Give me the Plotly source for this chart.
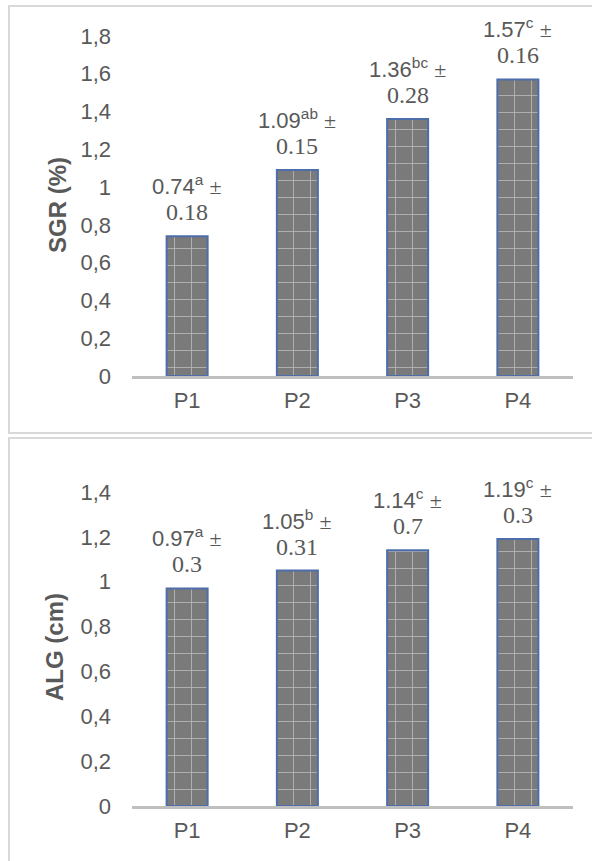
import plotly.graph_objects as go

categories = ["P1", "P2", "P3", "P4"]

sgr_values = [0.74, 1.09, 1.36, 1.57]
sgr_sd = ["0.18", "0.15", "0.28", "0.16"]
sgr_letters = ["a", "ab", "bc", "c"]

alg_values = [0.97, 1.05, 1.14, 1.19]
alg_sd = ["0.3", "0.31", "0.7", "0.3"]
alg_letters = ["a", "b", "c", "c"]

W, H = 592, 861
SANS = "Liberation Sans"
SERIF = "Liberation Serif"
GRAY_TXT = "#595959"

def py(px):
    return 1 - px / H

fig = go.Figure()

bar_style = dict(
    marker=dict(
        color="#7a7a7a",
        line=dict(color="#4d6eab", width=2),
        pattern=dict(shape="+", size=17, solidity=0.1,
                     fgcolor="rgba(255,255,255,0.9)", bgcolor="#7a7a7a",
                     fillmode="overlay"),
    ),
    showlegend=False,
    hoverinfo="skip",
)

fig.add_trace(go.Bar(x=categories, y=sgr_values, xaxis="x", yaxis="y", **bar_style))
fig.add_trace(go.Bar(x=categories, y=alg_values, xaxis="x2", yaxis="y2", **bar_style))

x_dom = [132 / W, 573 / W]
axis_common_x = dict(
    showline=True, linecolor="#bfbfbf", linewidth=3,
    showgrid=False, zeroline=False, ticks="", automargin=False,
    tickfont=dict(family=SANS, size=22, color=GRAY_TXT),
    ticklabelstandoff=3, domain=x_dom, fixedrange=True,
)
axis_common_y = dict(
    showline=False, showgrid=False, zeroline=False, ticks="", automargin=False,
    tickfont=dict(family=SANS, size=22, color=GRAY_TXT),
    ticklabelstandoff=20, dtick=0.2, tick0=0, fixedrange=True,
)

fig.update_layout(
    width=W, height=H, autosize=False,
    margin=dict(l=0, r=0, t=0, b=0, pad=0),
    paper_bgcolor="white", plot_bgcolor="white",
    separators=",.",
    bargap=0.628,
    xaxis=dict(anchor="y", **axis_common_x),
    xaxis2=dict(anchor="y2", **axis_common_x),
    yaxis=dict(anchor="x", range=[0, 1.8], domain=[py(376), py(36)], **axis_common_y),
    yaxis2=dict(anchor="x2", range=[0, 1.4], domain=[py(806), py(492)], **axis_common_y),
)

annotations = []

def add_labels(xref, yref, values, letters, sds):
    for c, v, l, s in zip(categories, values, letters, sds):
        annotations.append(dict(
            x=c, y=v, xref=xref, yref=yref, showarrow=False,
            yanchor="middle", yshift=51,
            text=f"{v:.2f}<sup>{l}</sup> <span style='font-family:Liberation Serif'>±</span>",
            font=dict(family=SANS, size=22, color=GRAY_TXT),
        ))
        annotations.append(dict(
            x=c, y=v, xref=xref, yref=yref, showarrow=False,
            yanchor="middle", yshift=24,
            text=s,
            font=dict(family=SERIF, size=24, color=GRAY_TXT),
        ))

add_labels("x", "y", sgr_values, sgr_letters, sgr_sd)
add_labels("x2", "y2", alg_values, alg_letters, alg_sd)

annotations.append(dict(
    x=57 / W, y=py(205), xref="paper", yref="paper", showarrow=False,
    text="<b>SGR (%)</b>", textangle=-90, xanchor="center", yanchor="middle",
    font=dict(family=SANS, size=24, color=GRAY_TXT),
))
annotations.append(dict(
    x=54 / W, y=py(647), xref="paper", yref="paper", showarrow=False,
    text="<b>ALG (cm)</b>", textangle=-90, xanchor="center", yanchor="middle",
    font=dict(family=SANS, size=24, color=GRAY_TXT),
))

fig.update_layout(annotations=annotations)

shapes = [
    dict(type="rect", xref="paper", yref="paper",
         x0=9 / W, x1=1.05, y0=py(433), y1=py(6),
         line=dict(color="#d9d9d9", width=2), fillcolor="rgba(0,0,0,0)", layer="below"),
    dict(type="rect", xref="paper", yref="paper",
         x0=9 / W, x1=1.05, y0=-0.05, y1=py(438),
         line=dict(color="#d9d9d9", width=2), fillcolor="rgba(0,0,0,0)", layer="below"),
]
fig.update_layout(shapes=shapes)

fig.write_html("out.html", config={"displayModeBar": False},
               post_script="document.body.style.margin='0';")
